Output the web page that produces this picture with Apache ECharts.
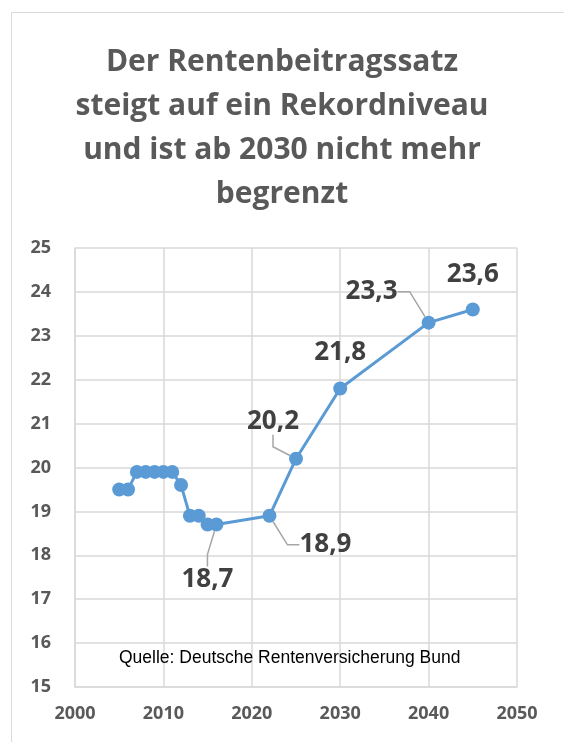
<!DOCTYPE html>
<html>
<head>
    <meta charset="UTF-8">
    <title>Rentenbeitragssatz</title>
    <script src="https://cdn.jsdelivr.net/npm/echarts@6/dist/echarts.min.js"></script>
    <style>
        html, body { margin: 0; padding: 0; background: #fff; }
    </style>
</head>
<body>
<div id="chart" style="width:564px; height:742px;"></div>
<script>
    // Werte (Rentenbeitragssatz in %)
    var years = [2005, 2006, 2007, 2008, 2009, 2010, 2011, 2012, 2013, 2014, 2015, 2016, 2022, 2025, 2030, 2040, 2045];
    var rates = [19.5, 19.5, 19.9, 19.9, 19.9, 19.9, 19.9, 19.6, 18.9, 18.9, 18.7, 18.7, 18.9, 20.2, 21.8, 23.3, 23.6];
    var labelYears = [2016, 2022, 2025, 2030, 2040, 2045];
    var xTicks = [2000, 2010, 2020, 2030, 2040, 2050];
    var yTicks = [15, 16, 17, 18, 19, 20, 21, 22, 23, 24, 25];

    // Verschiebung der Beschriftungen (px) und ob mit Führungslinie
    var labelShift = {
        2016: [-9, 55, true],
        2022: [56, 29, true],
        2025: [-23, -37, true],
        2030: [0, -36, false],
        2040: [-57, -31, true],
        2045: [0, -35, false]
    };

    var chart = echarts.init(document.getElementById('chart'), null, {renderer: 'canvas'});

    var seriesData = years.map(function (y, i) {
        var item = {value: [y, rates[i]]};
        if (labelYears.indexOf(y) >= 0) {
            item.label = {show: true};
            item.labelLine = {show: labelShift[y][2]};
        }
        return item;
    });

    var option = {
        backgroundColor: '#fff',
        animation: false,
        title: [{
            text: 'Der Rentenbeitragssatz\nsteigt auf ein Rekordniveau\nund ist ab 2030 nicht mehr\nbegrenzt',
            left: 'center',
            top: 35,
            textStyle: {
                fontFamily: 'Open Sans',
                fontWeight: 'bold',
                fontSize: 30,
                lineHeight: 44,
                color: '#595959'
            }
        }, {
            text: 'Quelle: Deutsche Rentenversicherung Bund',
            left: 114,
            top: 644,
            textStyle: {
                fontFamily: 'Liberation Sans',
                fontWeight: 'normal',
                fontSize: 17.5,
                color: '#000'
            }
        }],
        graphic: [{
            type: 'rect',
            shape: {x: 11.5, y: 12.5, width: 700, height: 900},
            style: {fill: null, stroke: '#d9d9d9', lineWidth: 1},
            silent: true,
            z: -1
        }],
        grid: {left: 75, right: 47, top: 248, bottom: 55},
        xAxis: {
            type: 'value',
            min: xTicks[0],
            max: xTicks[xTicks.length - 1],
            interval: 10,
            axisLine: {show: true, lineStyle: {color: '#d9d9d9', width: 1.5}},
            axisTick: {show: false},
            splitLine: {show: true, lineStyle: {color: '#d9d9d9', width: 1.5}},
            axisLabel: {
                margin: 18,
                fontFamily: 'Open Sans',
                fontWeight: 'bold',
                fontSize: 18,
                color: '#595959',
                formatter: function (v) { return String(v); }
            }
        },
        yAxis: {
            type: 'value',
            min: yTicks[0],
            max: yTicks[yTicks.length - 1],
            interval: 1,
            axisLine: {show: true, lineStyle: {color: '#d9d9d9', width: 1.5}},
            axisTick: {show: false},
            splitLine: {show: true, lineStyle: {color: '#d9d9d9', width: 1.5}},
            axisLabel: {
                margin: 24,
                fontFamily: 'Open Sans',
                fontWeight: 'bold',
                fontSize: 18,
                color: '#595959'
            }
        },
        series: [{
            type: 'line',
            data: seriesData,
            symbol: 'circle',
            symbolSize: 14,
            lineStyle: {color: '#5B9BD5', width: 3},
            itemStyle: {color: '#5B9BD5'},
            label: {
                show: false,
                position: 'inside',
                fontFamily: 'Open Sans',
                fontWeight: 'bold',
                fontSize: 26,
                color: '#404040',
                padding: [4, 6, 4, 6],
                formatter: function (p) {
                    return String(p.value[1]).replace('.', ',');
                }
            },
            labelLine: {
                show: true,
                length2: 12,
                lineStyle: {color: '#a6a6a6', width: 1.5}
            },
            labelLayout: function (p) {
                var s = labelShift[years[p.dataIndex]];
                return s ? {dx: s[0], dy: s[1]} : {};
            }
        }]
    };

    chart.setOption(option);
</script>
</body>
</html>
